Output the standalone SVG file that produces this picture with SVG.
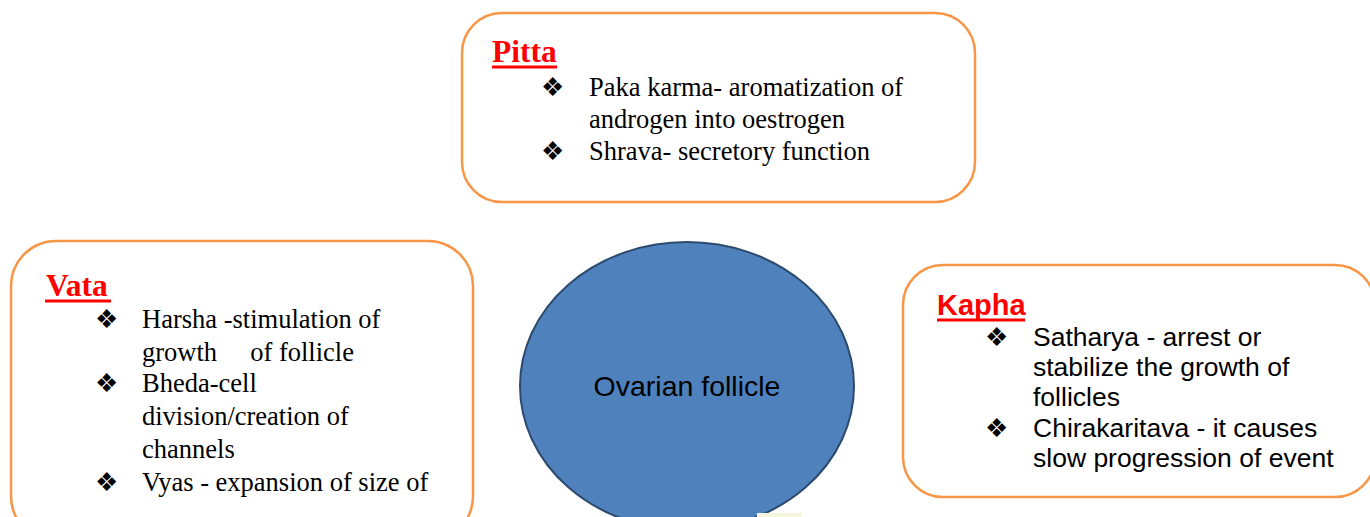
<svg xmlns="http://www.w3.org/2000/svg" width="1370" height="517" viewBox="0 0 1370 517">
<style>
.box{fill:#FFFFFF;stroke:#F79646;stroke-width:2.5}
.tnr{font-family:"Liberation Serif","Times New Roman",serif;font-size:26.5px;fill:#000}
.ar{font-family:"Liberation Sans",Arial,sans-serif;font-size:26.5px;fill:#000}
.bul{font-family:"DejaVu Sans",sans-serif;font-size:26px;fill:#000}
.headT{font-family:"Liberation Serif","Times New Roman",serif;font-weight:bold;font-size:31.5px;fill:#FF0000}
.headA{font-family:"Liberation Sans",Arial,sans-serif;font-weight:bold;font-size:29px;fill:#FF0000}
.ul{fill:#FF0000}
</style>
<rect x="0" y="0" width="1370" height="517" fill="#FFFFFF"/>
<g id="connectors"></g>
<g id="pitta">
<rect class="box" x="462" y="13" width="513" height="189" rx="40" ry="40"/>
<text class="headT" x="492" y="62">Pitta</text>
<rect class="ul" x="492" y="65.5" width="65" height="3"/>
<text class="bul" x="541" y="96">❖</text>
<text class="tnr" x="589" y="96">Paka karma- aromatization of</text>
<text class="tnr" x="589" y="128">androgen into oestrogen</text>
<text class="bul" x="541" y="160">❖</text>
<text class="tnr" x="589" y="160">Shrava- secretory function</text>
</g>
<g id="vata">
<rect class="box" x="11" y="241" width="462" height="300" rx="45" ry="45"/>
<text class="headT" x="46" y="296">Vata</text>
<rect class="ul" x="45" y="299.5" width="66" height="3"/>
<text class="bul" x="95" y="328">❖</text>
<text class="tnr" x="142" y="328">Harsha -stimulation of</text>
<text class="tnr" x="142" y="361" xml:space="preserve">growth     of follicle</text>
<text class="bul" x="95" y="392">❖</text>
<text class="tnr" x="142" y="392">Bheda-cell</text>
<text class="tnr" x="142" y="425">division/creation of</text>
<text class="tnr" x="142" y="458">channels</text>
<text class="bul" x="95" y="491">❖</text>
<text class="tnr" x="142" y="491">Vyas - expansion of size of</text>
</g>
<g id="ovarian-follicle">
<ellipse cx="687" cy="386" rx="167" ry="144" fill="#4F81BD" stroke="#2C4A6E" stroke-width="2"/>
<text class="ar" x="687" y="396" text-anchor="middle" style="font-size:28.5px">Ovarian follicle</text>
</g>
<rect x="757" y="513" width="45" height="4" fill="#F4F7DD"/>
<g id="kapha">
<rect class="box" x="903" y="265" width="472" height="232" rx="40" ry="40"/>
<text class="headA" x="937" y="315">Kapha</text>
<rect class="ul" x="937" y="318.5" width="88" height="3"/>
<text class="bul" x="985" y="346">❖</text>
<text class="ar" x="1033" y="346">Satharya - arrest or</text>
<text class="ar" x="1033" y="376">stabilize the growth of</text>
<text class="ar" x="1033" y="406">follicles</text>
<text class="bul" x="985" y="437">❖</text>
<text class="ar" x="1033" y="437">Chirakaritava - it causes</text>
<text class="ar" x="1033" y="467">slow progression of event</text>
</g>
</svg>
